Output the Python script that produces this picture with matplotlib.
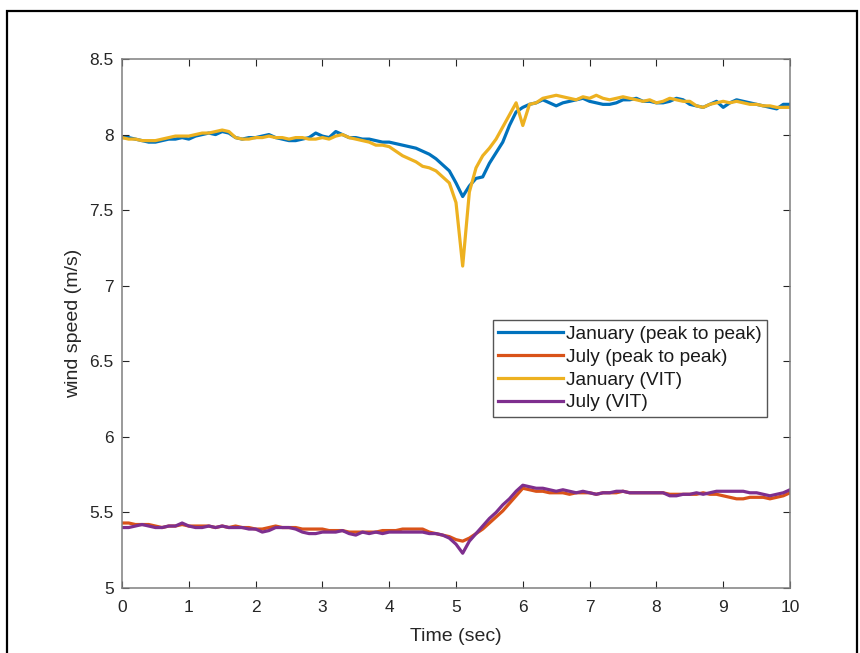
import numpy as np
import matplotlib
matplotlib.use("Agg")
import matplotlib.pyplot as plt
from matplotlib.patches import Rectangle
from matplotlib.ticker import FuncFormatter

plt.rcParams['font.family'] = ['Liberation Sans', 'DejaVu Sans']

time = np.round(np.arange(0, 10.01, 0.1), 1)

jan_p2p = [
    7.98, 7.98, 7.97, 7.96, 7.95, 7.95, 7.96, 7.97, 7.97, 7.98,
    7.97, 7.99, 8.00, 8.01, 8.00, 8.02, 8.01, 7.98, 7.97, 7.98,
    7.98, 7.99, 8.00, 7.98, 7.97, 7.96, 7.96, 7.97, 7.98, 8.01,
    7.99, 7.98, 8.02, 8.00, 7.98, 7.98, 7.97, 7.97, 7.96, 7.95,
    7.95, 7.94, 7.93, 7.92, 7.91, 7.89, 7.87, 7.84, 7.80, 7.76,
    7.68, 7.59, 7.66, 7.71, 7.72, 7.81, 7.88, 7.95, 8.06, 8.15,
    8.18, 8.20, 8.21, 8.23, 8.21, 8.19, 8.21, 8.22, 8.23, 8.24,
    8.22, 8.21, 8.20, 8.20, 8.21, 8.23, 8.23, 8.24, 8.22, 8.22,
    8.21, 8.21, 8.22, 8.24, 8.23, 8.20, 8.19, 8.18, 8.20, 8.22,
    8.18, 8.21, 8.23, 8.22, 8.21, 8.20, 8.19, 8.18, 8.17, 8.20,
    8.20,
]

jul_p2p = [
    5.43, 5.43, 5.42, 5.42, 5.42, 5.41, 5.40, 5.41, 5.41, 5.42,
    5.41, 5.41, 5.41, 5.41, 5.40, 5.41, 5.40, 5.41, 5.40, 5.40,
    5.39, 5.39, 5.40, 5.41, 5.40, 5.40, 5.40, 5.39, 5.39, 5.39,
    5.39, 5.38, 5.38, 5.38, 5.37, 5.37, 5.37, 5.37, 5.37, 5.38,
    5.38, 5.38, 5.39, 5.39, 5.39, 5.39, 5.37, 5.36, 5.35, 5.34,
    5.32, 5.31, 5.33, 5.36, 5.39, 5.43, 5.47, 5.51, 5.56, 5.61,
    5.66, 5.65, 5.64, 5.64, 5.63, 5.63, 5.63, 5.62, 5.63, 5.63,
    5.63, 5.62, 5.63, 5.63, 5.63, 5.64, 5.63, 5.63, 5.63, 5.63,
    5.63, 5.63, 5.62, 5.62, 5.62, 5.62, 5.62, 5.63, 5.62, 5.62,
    5.61, 5.60, 5.59, 5.59, 5.60, 5.60, 5.60, 5.59, 5.60, 5.61,
    5.63,
]

jan_vit = [
    7.98, 7.97, 7.97, 7.96, 7.96, 7.96, 7.97, 7.98, 7.99, 7.99,
    7.99, 8.00, 8.01, 8.01, 8.02, 8.03, 8.02, 7.98, 7.97, 7.97,
    7.98, 7.98, 7.99, 7.98, 7.98, 7.97, 7.98, 7.98, 7.97, 7.97,
    7.98, 7.97, 7.99, 8.00, 7.98, 7.97, 7.96, 7.95, 7.93, 7.93,
    7.92, 7.89, 7.86, 7.84, 7.82, 7.79, 7.78, 7.76, 7.72, 7.68,
    7.55, 7.13, 7.62, 7.78, 7.86, 7.91, 7.97, 8.05, 8.13, 8.21,
    8.06, 8.20, 8.21, 8.24, 8.25, 8.26, 8.25, 8.24, 8.23, 8.25,
    8.24, 8.26, 8.24, 8.23, 8.24, 8.25, 8.24, 8.23, 8.22, 8.23,
    8.21, 8.22, 8.24, 8.23, 8.22, 8.22, 8.19, 8.18, 8.20, 8.21,
    8.22, 8.21, 8.22, 8.21, 8.20, 8.20, 8.19, 8.19, 8.18, 8.18,
    8.18,
]

jul_vit = [
    5.40, 5.40, 5.41, 5.42, 5.41, 5.40, 5.40, 5.41, 5.41, 5.43,
    5.41, 5.40, 5.40, 5.41, 5.40, 5.41, 5.40, 5.40, 5.40, 5.39,
    5.39, 5.37, 5.38, 5.40, 5.40, 5.40, 5.39, 5.37, 5.36, 5.36,
    5.37, 5.37, 5.37, 5.38, 5.36, 5.35, 5.37, 5.36, 5.37, 5.36,
    5.37, 5.37, 5.37, 5.37, 5.37, 5.37, 5.36, 5.36, 5.35, 5.33,
    5.29, 5.23, 5.31, 5.36, 5.41, 5.46, 5.50, 5.55, 5.59, 5.64,
    5.68, 5.67, 5.66, 5.66, 5.65, 5.64, 5.65, 5.64, 5.63, 5.64,
    5.63, 5.62, 5.63, 5.63, 5.64, 5.64, 5.63, 5.63, 5.63, 5.63,
    5.63, 5.63, 5.61, 5.61, 5.62, 5.62, 5.63, 5.62, 5.63, 5.64,
    5.64, 5.64, 5.64, 5.64, 5.63, 5.63, 5.62, 5.61, 5.62, 5.63,
    5.65,
]

series_labels = ["January (peak to peak)", "July (peak to peak)",
                 "January (VIT)", "July (VIT)"]
series_colors = ["#0072BD", "#D95319", "#EDB120", "#7E2F8E"]
x_ticks = list(range(0, 11))
y_ticks = [5, 5.5, 6, 6.5, 7, 7.5, 8, 8.5]

fig = plt.figure(figsize=(8.6, 6.53), dpi=100)
W, H = 860, 653
ax = fig.add_axes([122 / W, 1 - 588 / H, (790 - 122) / W, (588 - 59) / H])

for vals, lab, col in zip([jan_p2p, jul_p2p, jan_vit, jul_vit],
                          series_labels, series_colors):
    ax.plot(time, vals, color=col, lw=2.3, label=lab)

ax.set_xlim(0, 10)
ax.set_ylim(5, 8.5)
ax.set_xticks(x_ticks)
ax.set_yticks(y_ticks)
ax.yaxis.set_major_formatter(FuncFormatter(lambda v, p: f"{v:g}"))

axis_col = "#262626"
for s in ax.spines.values():
    s.set_color("#7f7f7f")
    s.set_linewidth(1.1)
ax.tick_params(direction='in', top=True, right=True, length=5, width=0.8,
               color=axis_col, labelsize=12.5, labelcolor=axis_col)
ax.tick_params(axis='x', pad=9)
ax.tick_params(axis='y', pad=6)

ax.set_xlabel("Time (sec)", fontsize=14, color=axis_col, labelpad=9)
ax.set_ylabel("wind speed (m/s)", fontsize=14, color=axis_col, labelpad=5)

leg = ax.legend(loc='lower left', bbox_to_anchor=(0.555, 0.323),
                fontsize=13.8, handlelength=3.35, handletextpad=0.15,
                labelspacing=0.28, borderpad=0.3, borderaxespad=0,
                fancybox=False, framealpha=1, edgecolor="#555555")
leg.get_frame().set_linewidth(1.0)
for t in leg.get_texts():
    t.set_color("#1a1a1a")

# outer frame around the figure
fig.patches.append(Rectangle((7 / W, -0.05), (857 - 7) / W, 1.05 - 11 / H,
                             transform=fig.transFigure, fill=False,
                             edgecolor="black", linewidth=1.6))

fig.savefig("out.png", dpi=100)
